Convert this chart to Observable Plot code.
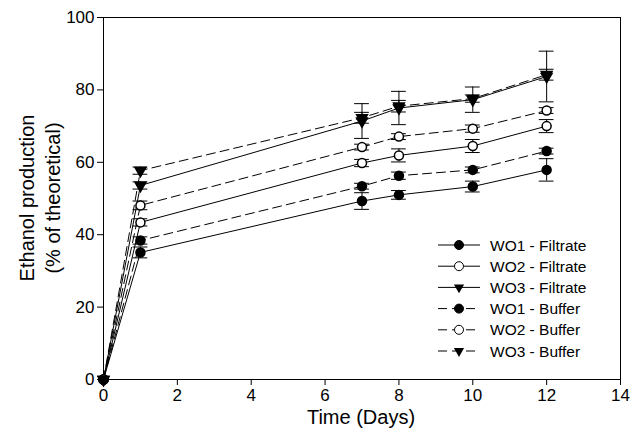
<!DOCTYPE html>
<html>
<head>
<meta charset="utf-8">
<script src="https://cdn.jsdelivr.net/npm/d3@7"></script>
<script src="https://cdn.jsdelivr.net/npm/@observablehq/plot@0.6"></script>
<style>
  body { margin: 0; background: #fff; font-family: "Liberation Sans", Arial, sans-serif; }
  #wrap { position: relative; width: 644px; height: 444px; }
  #legend { position: absolute; left: 0; top: 0; }
</style>
</head>
<body>
<div id="wrap"><div id="chart"></div><svg id="legend" width="644" height="444"></svg></div>
<script>
// days sampled
const DAYS = [0, 1, 7, 8, 10, 12];
const SERIES = ["WO1 - Filtrate", "WO2 - Filtrate", "WO3 - Filtrate", "WO1 - Buffer", "WO2 - Buffer", "WO3 - Buffer"];
// ethanol production (% of theoretical)
const WO1_F = [0, 35.1, 49.3, 51.0, 53.3, 57.9];
const WO2_F = [0, 43.4, 59.8, 61.9, 64.5, 70.0];
const WO3_F = [0, 53.6, 71.4, 75.0, 77.3, 83.7];
const WO1_B = [0, 38.4, 53.4, 56.3, 57.9, 63.1];
const WO2_B = [0, 48.1, 64.2, 67.1, 69.3, 74.3];
const WO3_B = [0, 57.7, 72.3, 75.5, 77.6, 84.2];
// standard deviations
const WO1_F_ERR = [0, 1.5, 2.3, 1.2, 1.5, 3.1];
const WO2_F_ERR = [0, 1.0, 1.0, 1.8, 1.8, 1.8];
const WO3_F_ERR = [0, 1.0, 4.8, 4.6, 3.5, 7.0];
const WO1_B_ERR = [0, 1.0, 0.8, 1.0, 0.8, 0.8];
const WO2_B_ERR = [0, 1.2, 0.8, 0.8, 1.0, 0.8];
const WO3_B_ERR = [0, 1.0, 1.5, 1.6, 1.0, 1.5];

const VALUES = [WO1_F, WO2_F, WO3_F, WO1_B, WO2_B, WO3_B];
const ERRORS = [WO1_F_ERR, WO2_F_ERR, WO3_F_ERR, WO1_B_ERR, WO2_B_ERR, WO3_B_ERR];
const SYMBOL = ["circle", "open", "triangle", "circle", "open", "triangle"];

const rows = SERIES.flatMap((s, i) => DAYS.map((d, j) => ({
  series: s, day: d, value: VALUES[i][j], err: ERRORS[i][j],
  dashed: s.includes("Buffer"), sym: SYMBOL[i]
})));
const errRows = rows.filter(r => r.err > 0);
const capW = 0.2;

const marks = [Plot.frame({stroke: "#000"})];
SERIES.forEach(s => {
  const sub = rows.filter(r => r.series === s);
  marks.push(Plot.line(sub, {x: "day", y: "value", stroke: "#000", strokeWidth: 1,
    strokeDasharray: s.includes("Buffer") ? "9,5" : null}));
});
marks.push(
  Plot.ruleX(errRows, {x: "day", y1: d => d.value - d.err, y2: d => d.value + d.err, stroke: "#000"}),
  Plot.ruleY(errRows, {y: d => d.value + d.err, x1: d => d.day - capW, x2: d => d.day + capW, stroke: "#000"}),
  Plot.ruleY(errRows, {y: d => d.value - d.err, x1: d => d.day - capW, x2: d => d.day + capW, stroke: "#000"}),
  Plot.dot(rows.filter(r => r.sym === "circle"), {x: "day", y: "value", r: 4.5, fill: "#000", stroke: "#000"}),
  Plot.dot(rows.filter(r => r.sym === "open"), {x: "day", y: "value", r: 4.5, fill: "#fff", stroke: "#000"}),
  Plot.dot(rows.filter(r => r.sym === "triangle"), {x: "day", y: "value", symbol: "triangle", rotate: 180, r: 4, fill: "#000", stroke: "#000"})
);

const chart = Plot.plot({
  width: 644, height: 444,
  marginLeft: 103, marginRight: 24, marginTop: 17, marginBottom: 65,
  style: {fontFamily: "Liberation Sans, Arial, sans-serif", fontSize: "17px", color: "#000", overflow: "visible"},
  x: {domain: [0, 14], ticks: d3.range(0, 15, 2), tickSize: 6, label: null},
  y: {domain: [0, 100], ticks: d3.range(0, 101, 20), tickSize: 6, label: null},
  marks
});
document.getElementById("chart").appendChild(chart);

// axis titles and legend
const lg = d3.select("#legend");
lg.append("text").attr("x", 361).attr("y", 424).attr("text-anchor", "middle")
  .attr("font-size", 20).text("Time (Days)");
const yt = lg.append("text").attr("transform", "translate(38,198) rotate(-90)")
  .attr("text-anchor", "middle").attr("font-size", 20);
yt.append("tspan").attr("x", 0).attr("dy", -4).text("Ethanol production");
yt.append("tspan").attr("x", 0).attr("dy", 26).text("(% of theoretical)");

SERIES.forEach((s, i) => {
  const y = 245 + i * 21.2;
  lg.append("line").attr("x1", 438).attr("x2", 480).attr("y1", y).attr("y2", y)
    .attr("stroke", "#000").attr("stroke-dasharray", s.includes("Buffer") ? "9,5" : null);
  const sym = SYMBOL[i];
  if (sym === "triangle") {
    lg.append("path").attr("d", d3.symbol(d3.symbolTriangle, 45)())
      .attr("transform", `translate(459,${y}) rotate(180)`).attr("fill", "#000");
  } else {
    lg.append("circle").attr("cx", 459).attr("cy", y).attr("r", 4.5)
      .attr("fill", sym === "open" ? "#fff" : "#000").attr("stroke", "#000");
  }
  lg.append("text").attr("x", 490).attr("y", y + 5.5).attr("font-size", 15.5).text(s);
});
</script>
</body>
</html>
